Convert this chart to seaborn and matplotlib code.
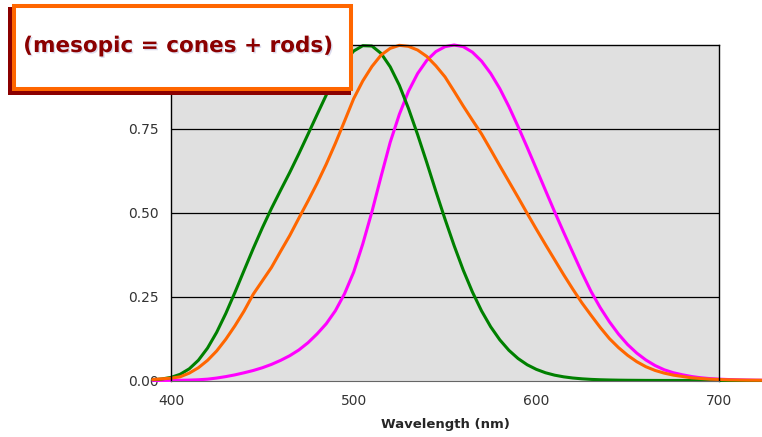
import numpy as np
import pandas as pd
import matplotlib
matplotlib.use("Agg")
import matplotlib.pyplot as plt
import matplotlib.patheffects as pe
from matplotlib.patches import Rectangle
import seaborn as sns

# wavelengths (nm), 5 nm steps, and the three sensitivity curves
wavelength = list(range(390, 745, 5))
scotopic = [0.0022, 0.0045, 0.0093, 0.0185, 0.0348, 0.0604, 0.0966, 0.1436,
            0.1998, 0.2625, 0.3281, 0.3931, 0.455, 0.513, 0.567, 0.620,
            0.676, 0.734, 0.793, 0.851, 0.904, 0.949, 0.982, 0.998,
            0.997, 0.975, 0.935, 0.880, 0.811, 0.733, 0.650, 0.564,
            0.481, 0.402, 0.3288, 0.2639, 0.2076, 0.1602, 0.1212, 0.0899,
            0.0655, 0.0469, 0.0332, 0.0231, 0.0159, 0.0109, 0.0074, 0.0050,
            0.0033, 0.0022, 0.0015, 0.0010, 0.0007, 0.0005, 0.0003, 0.0002,
            0.0001, 0.0001, 0.0001, 0.0001, 0.0, 0.0, 0.0, 0.0,
            0.0, 0.0, 0.0, 0.0, 0.0, 0.0, 0.0]
photopic = [0.0001, 0.0002, 0.0004, 0.0006, 0.0012, 0.0022, 0.0040, 0.0073,
            0.0116, 0.0168, 0.0230, 0.0298, 0.0380, 0.0480, 0.0600, 0.0739,
            0.0910, 0.1126, 0.1390, 0.1693, 0.2080, 0.2586, 0.3230, 0.4073,
            0.5030, 0.6082, 0.7100, 0.7932, 0.8620, 0.9149, 0.9540, 0.9803,
            0.9950, 1.0000, 0.9950, 0.9786, 0.9520, 0.9154, 0.8700, 0.8163,
            0.7570, 0.6949, 0.6310, 0.5668, 0.5030, 0.4412, 0.3810, 0.3210,
            0.2650, 0.2170, 0.1750, 0.1382, 0.1070, 0.0816, 0.0610, 0.0446,
            0.0320, 0.0232, 0.0170, 0.0119, 0.0082, 0.0057, 0.0041, 0.0029,
            0.0021, 0.0015, 0.0010, 0.0007, 0.0005, 0.0004, 0.0002]
mesopic = [0.003, 0.005, 0.007, 0.011, 0.022, 0.038, 0.060, 0.088,
           0.123, 0.163, 0.207, 0.257, 0.297, 0.337, 0.385, 0.432,
           0.484, 0.535, 0.588, 0.645, 0.707, 0.773, 0.840, 0.893,
           0.936, 0.970, 0.990, 0.999, 0.996, 0.985, 0.966, 0.938,
           0.905, 0.862, 0.818, 0.776, 0.735, 0.688, 0.640, 0.593,
           0.546, 0.498, 0.451, 0.405, 0.360, 0.315, 0.272, 0.231,
           0.194, 0.158, 0.125, 0.098, 0.075, 0.056, 0.041, 0.030,
           0.022, 0.016, 0.012, 0.008, 0.006, 0.004, 0.003, 0.002,
           0.0015, 0.001, 0.0008, 0.0006, 0.0004, 0.0003, 0.0002]

series_names = ["photopic", "scotopic", "mesopic"]
series_colors = {"photopic": "#FF00FF", "scotopic": "#008000", "mesopic": "#FF6600"}

df = pd.DataFrame({"Wavelength (nm)": wavelength,
                   "photopic": photopic,
                   "scotopic": scotopic,
                   "mesopic": mesopic})
long = df.melt(id_vars="Wavelength (nm)", value_vars=series_names,
               var_name="curve", value_name="V")

sns.set_style("white")
plt.rcParams["font.family"] = ["DejaVu Sans"]

W, H = 762, 437
fig = plt.figure(figsize=(W / 100, H / 100), dpi=100)
ax = fig.add_axes([171 / W, 1 - 380.5 / H, (719 - 171) / W, (380.5 - 45) / H])
ax.set_facecolor("#E0E0E0")

sns.lineplot(data=long, x="Wavelength (nm)", y="V", hue="curve",
             hue_order=series_names, palette=series_colors, linewidth=2.2,
             legend=False, ax=ax)
for ln in ax.lines:
    ln.set_clip_on(False)

ax.set_xlim(400, 700)
ax.set_ylim(0, 1)
ax.set_xticks([400, 500, 600, 700])
ax.set_yticks([0, 0.25, 0.5, 0.75, 1.0])
ax.set_yticklabels(["0.00", "0.25", "0.50", "0.75", ""])
for y in [0.25, 0.5, 0.75]:
    ax.axhline(y, color="black", linewidth=0.9, zorder=1)
ax.tick_params(axis="both", direction="out", length=5, width=0.8,
               color="#555555", labelsize=10, labelcolor="#333333", pad=4)
ax.tick_params(axis="x", pad=5)
for side in ["left", "top", "right"]:
    ax.spines[side].set_color("black")
    ax.spines[side].set_linewidth(1.0)
ax.spines["bottom"].set_color("#666666")
ax.spines["bottom"].set_linewidth(0.8)
ax.set_ylabel("")
ax.set_xlabel("Wavelength (nm)", fontsize=9.5, fontweight="bold", labelpad=7)


def fig_rect(x0, y0, x1, y1, **kw):
    return Rectangle((x0 / W, 1 - y1 / H), (x1 - x0) / W, (y1 - y0) / H,
                     transform=fig.transFigure, **kw)


# label box with its dark red shadow
fig.add_artist(fig_rect(8, 7, 351, 95, facecolor="#8B0000", edgecolor="none", zorder=5))
fig.add_artist(fig_rect(14, 6, 351, 89, facecolor="white", edgecolor="#FF6600",
                        linewidth=2.9, zorder=6))
fig.text(178 / W, 1 - 46 / H, "(mesopic = cones + rods)", ha="center",
         va="center", fontsize=15.5, fontweight="bold", color="#8B0000", zorder=7,
         path_effects=[pe.withSimplePatchShadow(offset=(1, -1),
                                                shadow_rgbFace="#9999CC", alpha=0.35)])

fig.savefig("out.png", dpi=100)
